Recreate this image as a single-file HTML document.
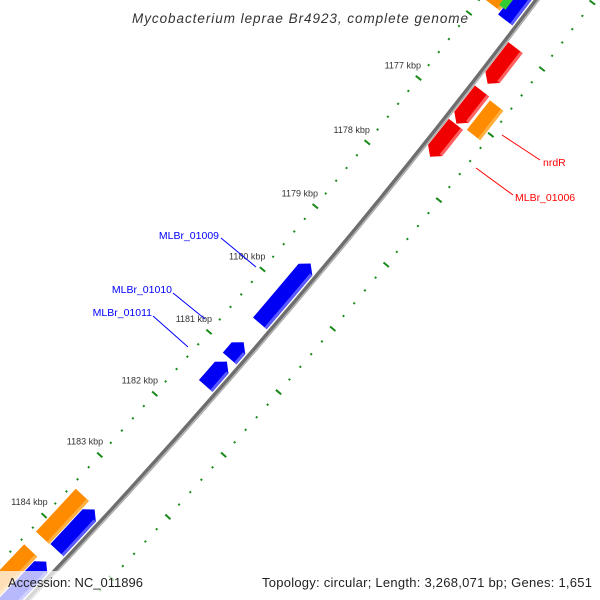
<!DOCTYPE html>
<html><head><meta charset="utf-8"><style>
html,body{margin:0;padding:0;background:#fff;width:600px;height:600px;overflow:hidden}
svg{display:block;font-family:"Liberation Sans",sans-serif}
</style></head><body>
<svg id="map" width="600" height="600" viewBox="0 0 600 600" xmlns="http://www.w3.org/2000/svg">
<g id="ticks"></g>
<g id="genes"></g>
<g id="backbone"></g>
<g>
<line x1="502" y1="135" x2="540" y2="160" stroke="#f00" stroke-width="1"/>
<text x="543" y="166" font-size="10.5" fill="#f00">nrdR</text>
<line x1="476" y1="168" x2="513" y2="195" stroke="#f00" stroke-width="1"/>
<text x="515" y="201" font-size="10.5" fill="#f00">MLBr_01006</text>
<line x1="221" y1="238" x2="256" y2="267" stroke="#00f" stroke-width="1"/>
<text x="219" y="239" font-size="10.5" fill="#00f" text-anchor="end">MLBr_01009</text>
<line x1="173" y1="293" x2="205" y2="319" stroke="#00f" stroke-width="1"/>
<text x="172" y="293" font-size="10.5" fill="#00f" text-anchor="end">MLBr_01010</text>
<line x1="153" y1="316" x2="188" y2="347" stroke="#00f" stroke-width="1"/>
<text x="152" y="316" font-size="10.5" fill="#00f" text-anchor="end">MLBr_01011</text>
</g>
<text x="132" y="23" font-size="13.5" font-style="italic" fill="#333" textLength="336" lengthAdjust="spacing">Mycobacterium leprae Br4923, complete genome</text>
<rect x="0" y="571" width="150" height="29" fill="#fff" fill-opacity="0.72"/>
<text x="8" y="587" font-size="13" fill="#222" textLength="135" lengthAdjust="spacing">Accession: NC_011896</text>
<text x="262" y="587" font-size="13" fill="#222" textLength="330" lengthAdjust="spacing">Topology: circular; Length: 3,268,071 bp; Genes: 1,651</text>
</svg>
<script>
// data (kbp)
const tickLabels = [1177,1178,1179,1180,1181,1182,1183,1184];
const innerBlueStart = [1174.55,1179.57,1180.82,1181.13,1183.53,1184.39];
const innerBlueEnd   = [1175.80,1180.52,1181.08,1181.52,1184.20,1186.30];
const innerOrangeStart = [1175.30,1183.50,1184.42];
const innerOrangeEnd   = [1175.75,1184.21,1186.30];
const greenStart = [1175.30];
const greenEnd   = [1175.70];
const outerRedStart = [1175.99,1176.65,1177.16];
const outerRedEnd   = [1176.54,1177.15,1177.66];
const outerOrangeStart = [1176.68];
const outerOrangeEnd   = [1177.13];

const NS="http://www.w3.org/2000/svg";
const CX=-5025, CY=-4201, R0=6970;
function ang(k){return (38.17+(k-1177)*0.681)*Math.PI/180;}
function pt(r,a){return [CX+r*Math.cos(a), CY+r*Math.sin(a)];}
function f(p){return p[0].toFixed(2)+","+p[1].toFixed(2);}
function mk(tag,parent,attrs){const e=document.createElementNS(NS,tag);for(const k in attrs)e.setAttribute(k,attrs[k]);parent.appendChild(e);return e;}

const bb=document.getElementById('backbone');
function arcPath(r,k1,k2){const a=pt(r,ang(k1)),b=pt(r,ang(k2));return "M"+f(a)+" A"+r+","+r+" 0 0 1 "+f(b);}
let e=mk('path',bb,{d:arcPath(R0,1172,1187),stroke:'#6e6e6e','stroke-width':5,fill:'none'});


e=mk('path',bb,{d:arcPath(R0+1.6,1172,1187),stroke:'#b5b5b5','stroke-width':1.5,fill:'none'});



const tg=document.getElementById('ticks');
for(let i=0;i<=80;i++){
  const k=1172+i*0.2; const major=(i%5===0);
  [R0-46,R0+46].forEach(function(r,ri){
    const a=ang(k); const h=major?3.5:1;
    const p1=pt(r-h,a),p2=pt(r+h,a);
    const t=mk('line',tg,{x1:p1[0],y1:p1[1],x2:p2[0],y2:p2[1],stroke:'#1a8a1a','stroke-width':2});
    
    
  });
}
tickLabels.forEach(function(k){
  const p=pt(R0-66,ang(k));
  const t=mk('text',tg,{x:p[0],y:p[1]+3,'font-size':9,fill:'#333','text-anchor':'middle'});
  t.textContent=k+" kbp";
  
  
});

const gg=document.getElementById('genes');
function gene(k1,k2,r1,r2,dir,col,light,name){
  const a1=ang(k1),a2=ang(k2),h=8/R0; const rm=(r1+r2)/2;
  let d;
  if(dir>0){
    const ae=Math.max(a1,a2-h);
    d="M"+f(pt(r1,a1))+" A"+r1+","+r1+" 0 0 1 "+f(pt(r1,ae))+" L"+f(pt(rm,a2))+" L"+f(pt(r2,ae))+" A"+r2+","+r2+" 0 0 0 "+f(pt(r2,a1))+" Z";
  }else if(dir<0){
    const as=Math.min(a2,a1+h);
    d="M"+f(pt(rm,a1))+" L"+f(pt(r1,as))+" A"+r1+","+r1+" 0 0 1 "+f(pt(r1,a2))+" L"+f(pt(r2,a2))+" A"+r2+","+r2+" 0 0 0 "+f(pt(r2,as))+" Z";
  }else{
    d="M"+f(pt(r1,a1))+" A"+r1+","+r1+" 0 0 1 "+f(pt(r1,a2))+" L"+f(pt(r2,a2))+" A"+r2+","+r2+" 0 0 0 "+f(pt(r2,a1))+" Z";
  }
  const g=mk('path',gg,{d:d,fill:col});
  
  
  if(light){
    const s=mk('path',gg,{d:"M"+f(pt(r2-1.5,a1+(dir<0?h:0)))+" A"+(r2-1.5)+","+(r2-1.5)+" 0 0 1 "+f(pt(r2-1.5,a2-(dir>0?h:0))),stroke:light,'stroke-width':3,fill:'none'});
    
    
  }
}
innerBlueStart.forEach(function(s,i){gene(s,innerBlueEnd[i],6948,6966,-1,'#0000f5','#5a5aff','reverse-gene-blue');});
innerOrangeStart.forEach(function(s,i){gene(s,innerOrangeEnd[i],6929,6947,0,'#ff8c00','#ffb040','orange-gene-inner');});
greenStart.forEach(function(s,i){gene(s,greenEnd[i],6943,6951,0,'#33cc33',null,'green-gene');});
outerRedStart.forEach(function(s,i){gene(s,outerRedEnd[i],6973,6991,1,'#f00000','#ff6060','forward-gene-red');});
outerOrangeStart.forEach(function(s,i){gene(s,outerOrangeEnd[i],6994,7011,0,'#ff8c00','#ffb040','nrdR-gene');});
</script>
</body></html>
